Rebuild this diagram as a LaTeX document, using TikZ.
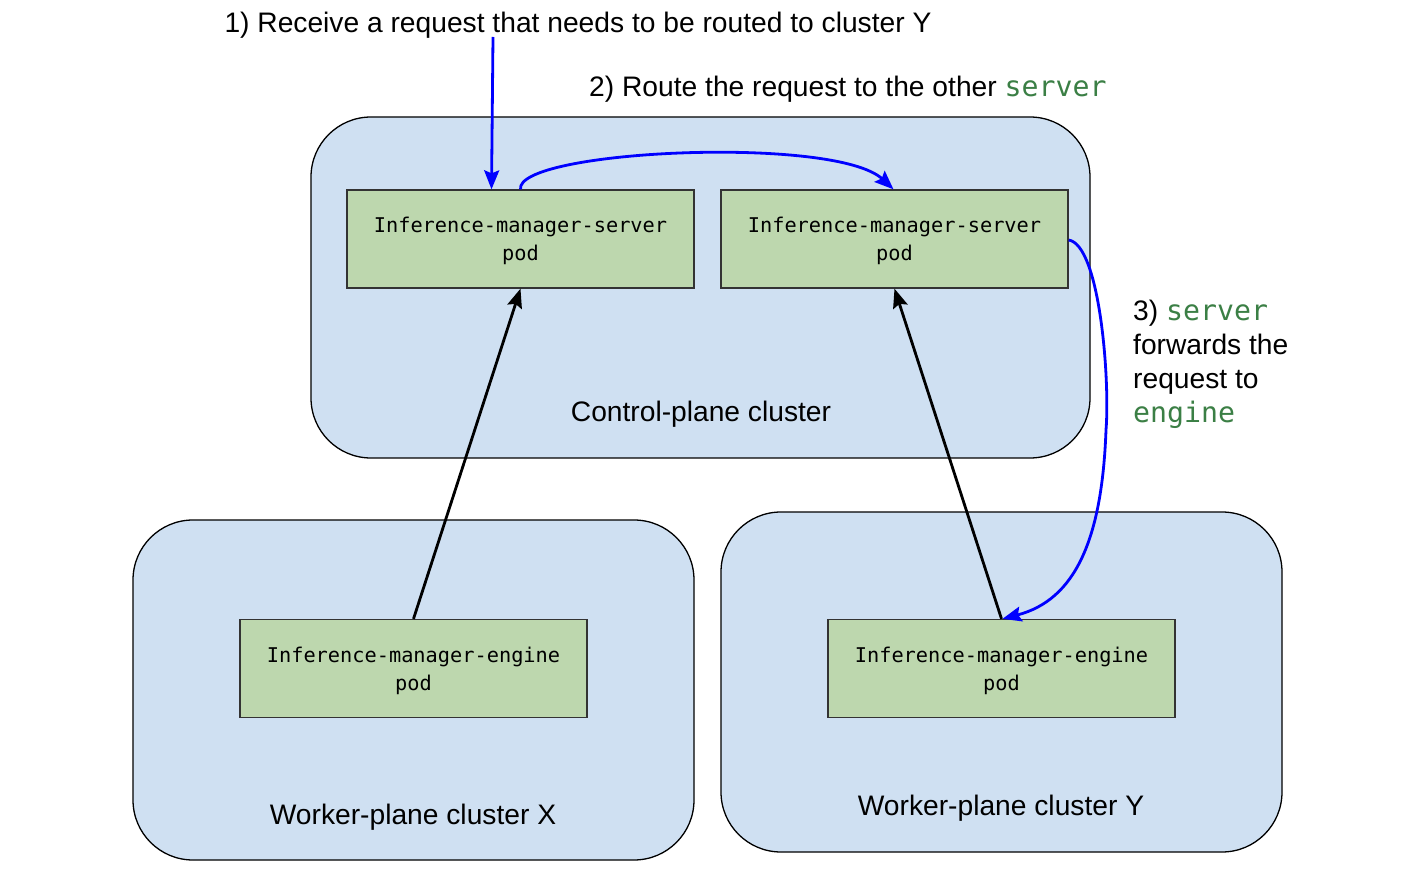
\documentclass[tikz,border=0pt]{standalone}
\usepackage{fontspec}
\setmainfont{Liberation Sans}
\newfontfamily\podmono{DejaVu Sans Mono}
\usetikzlibrary{arrows.meta}
\definecolor{clusterblue}{HTML}{CFE0F2}
\definecolor{podgreen}{HTML}{BDD7AE}
\definecolor{codegreen}{HTML}{3B7F45}
\definecolor{arrowblue}{HTML}{0000FF}
\tikzset{
  cluster/.style={draw=black, line width=1.3pt, fill=clusterblue, rounded corners=60pt},
  podbox/.style={draw=black!80, line width=1.3pt, fill=podgreen, minimum width=347pt, minimum height=98pt, inner sep=0pt, align=center, font=\podmono\fontsize{20.3}{28}\selectfont, text depth=-1pt},
  lbl/.style={font=\fontsize{28.2}{34}\selectfont, inner sep=0pt},
  bluearrow/.style={draw=arrowblue, line width=2.8pt, -{Stealth[length=19pt,width=15pt,inset=3pt]}},
  blackarrow/.style={draw=black, line width=2.8pt, -{Stealth[length=19pt,width=15pt,inset=3pt]}},
}
\newcommand{\code}[1]{{\podmono\color{codegreen}#1}}
\begin{document}
\begin{tikzpicture}[x=1pt,y=-1pt]
\useasboundingbox (0,0) rectangle (1406,882);
% clusters
\draw[cluster] (311,117) rectangle (1090,458);
\draw[cluster] (133,520) rectangle (694,860);
\draw[cluster] (721,512) rectangle (1282,852);
% cluster labels
\node[lbl] (cpl) at (701,414) {Control-plane cluster};
\node[lbl] (wxl) at (413,817) {Worker-plane cluster X};
\node[lbl] (wyl) at (1001,808) {Worker-plane cluster Y};
% pods
\node[podbox] (s1) at (520.5,239) {Inference-manager-server\\pod};
\node[podbox] (s2) at (894.5,239) {Inference-manager-server\\pod};
\node[podbox] (e1) at (413.5,668.5) {Inference-manager-engine\\pod};
\node[podbox] (e2) at (1001.5,668.5) {Inference-manager-engine\\pod};
% step labels
\node[lbl, anchor=base] (l1) at (578,33) {1) Receive a request that needs to be routed to cluster Y};
\node[lbl, anchor=base west] (l2) at (589,97) {2) Route the request to the other \code{server}};
\node[lbl, anchor=north west, align=left] (l3) at (1133,300) {3) \code{server}\\forwards the\\request to\\\code{engine}};
% connectors
\coordinate (start1) at (493,37);
\draw[bluearrow] (start1) -- ([xshift=-29pt]s1.north);
\draw[bluearrow] ([xshift=0pt]s1.north) .. controls (515,150) and (835,135) .. ([xshift=-1pt]s2.north);
\draw[bluearrow] ([yshift=-1pt]s2.east) .. controls (1100,245) and (1110,380) .. (1106,430)
   .. controls (1102,540) and (1075,600) .. ([xshift=1pt]e2.north);
\draw[blackarrow] (e1.north) -- (s1.south);
\draw[blackarrow] (e2.north) -- (s2.south);
\end{tikzpicture}
\end{document}
